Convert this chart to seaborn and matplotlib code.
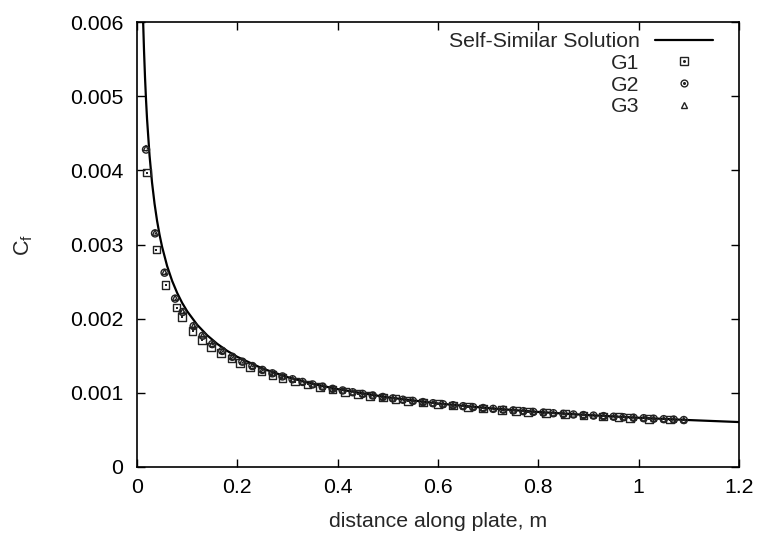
import matplotlib
matplotlib.use("Agg")
import matplotlib.pyplot as plt
import seaborn as sns
import pandas as pd
from matplotlib.lines import Line2D
from matplotlib.legend_handler import HandlerTuple
from matplotlib.ticker import FuncFormatter, FixedLocator

# ---------------- data ----------------
ref_x = [0.0110, 0.0123, 0.014, 0.016, 0.018, 0.020, 0.025, 0.030, 0.035, 0.040, 0.045,
         0.050, 0.060, 0.070, 0.080, 0.090, 0.100, 0.120, 0.140, 0.160, 0.180, 0.200,
         0.250, 0.300, 0.350, 0.400, 0.500, 0.600, 0.700, 0.800, 0.900, 1.000, 1.100, 1.200]
ref_cf = [6.331, 5.987, 5.612, 5.249, 4.949, 4.695, 4.200, 3.834, 3.549, 3.320, 3.130,
          2.969, 2.711, 2.510, 2.348, 2.213, 2.100, 1.917, 1.775, 1.660, 1.565, 1.485,
          1.328, 1.212, 1.122, 1.050, 0.939, 0.857, 0.794, 0.742, 0.700, 0.664, 0.633, 0.606]

g1_x = [0.0205, 0.0385, 0.057, 0.079, 0.090, 0.111, 0.130, 0.148, 0.168, 0.188, 0.205,
        0.225, 0.248, 0.270, 0.290, 0.315, 0.340, 0.365, 0.390, 0.415, 0.440, 0.465,
        0.490, 0.515, 0.540, 0.570, 0.600, 0.630, 0.660, 0.690, 0.727, 0.755, 0.779,
        0.815, 0.853, 0.890, 0.929, 0.960, 0.983, 1.020, 1.062]
g1_cf = [3.97, 2.93, 2.45, 2.15, 2.02, 1.83, 1.713, 1.622, 1.539, 1.462, 1.405,
         1.347, 1.287, 1.237, 1.196, 1.152, 1.113, 1.077, 1.044, 1.014, 0.986, 0.960,
         0.937, 0.914, 0.893, 0.869, 0.848, 0.829, 0.809, 0.791, 0.771, 0.757, 0.745,
         0.728, 0.712, 0.697, 0.682, 0.671, 0.663, 0.651, 0.638]

g2_x = [0.018, 0.036, 0.055, 0.076, 0.091, 0.113, 0.131, 0.150, 0.170, 0.190, 0.210,
        0.230, 0.250, 0.270, 0.290, 0.310, 0.330, 0.350, 0.370, 0.390, 0.410, 0.430,
        0.450, 0.470, 0.490, 0.510, 0.530, 0.550, 0.570, 0.590, 0.610, 0.630, 0.650,
        0.670, 0.690, 0.710, 0.730, 0.750, 0.770, 0.790, 0.810, 0.830, 0.850, 0.870,
        0.890, 0.910, 0.930, 0.950, 0.970, 0.990, 1.010, 1.030, 1.050, 1.070, 1.090]
g2_cf = [4.28, 3.15, 2.62, 2.27, 2.09, 1.90, 1.77, 1.657, 1.565, 1.486, 1.420,
         1.361, 1.309, 1.263, 1.221, 1.183, 1.147, 1.113, 1.083, 1.054, 1.032, 1.008,
         0.985, 0.964, 0.944, 0.925, 0.907, 0.891, 0.875, 0.860, 0.846, 0.833, 0.820,
         0.807, 0.795, 0.784, 0.773, 0.763, 0.753, 0.743, 0.734, 0.725, 0.716, 0.708,
         0.700, 0.693, 0.686, 0.678, 0.671, 0.664, 0.658, 0.651, 0.645, 0.639, 0.633]

g3_x = [0.018, 0.036, 0.055, 0.076, 0.091, 0.113, 0.131, 0.150, 0.170, 0.190, 0.210,
        0.230, 0.250, 0.270, 0.290, 0.310, 0.330, 0.350, 0.370, 0.390, 0.410, 0.430,
        0.450, 0.470, 0.490, 0.510, 0.530, 0.550, 0.570, 0.590, 0.610, 0.630, 0.650,
        0.670, 0.690, 0.710, 0.730, 0.750, 0.770, 0.790, 0.810, 0.830, 0.850, 0.870,
        0.890, 0.910, 0.930, 0.950, 0.970, 0.990, 1.010, 1.030, 1.050, 1.070, 1.090]
g3_cf = [4.30, 3.16, 2.63, 2.28, 2.10, 1.905, 1.775, 1.660, 1.568, 1.488, 1.422,
         1.363, 1.310, 1.264, 1.222, 1.184, 1.148, 1.114, 1.084, 1.055, 1.032, 1.008,
         0.985, 0.964, 0.944, 0.925, 0.907, 0.891, 0.875, 0.860, 0.846, 0.833, 0.820,
         0.807, 0.795, 0.784, 0.773, 0.763, 0.753, 0.743, 0.734, 0.725, 0.716, 0.708,
         0.700, 0.693, 0.686, 0.678, 0.671, 0.664, 0.658, 0.651, 0.645, 0.639, 0.633]

x_ticks = [0, 0.2, 0.4, 0.6, 0.8, 1.0, 1.2]
y_ticks = [0, 0.001, 0.002, 0.003, 0.004, 0.005, 0.006]
series_labels = ["Self-Similar Solution", "G1", "G2", "G3"]
x_label = "distance along plate, m"
y_label = r"C$_\mathrm{f}$"

# ---------------- style ----------------
sns.set_theme(style="white")
plt.rcParams["font.family"] = ["Liberation Sans", "DejaVu Sans"]
plt.rcParams["mathtext.fontset"] = "custom"
plt.rcParams["mathtext.rm"] = "Liberation Sans"
plt.rcParams["mathtext.it"] = "Liberation Sans:italic"

FS = 15.3
fig = plt.figure(figsize=(7.59, 5.34), dpi=100)
ax = fig.add_axes([137 / 759, 1 - 467 / 534, (739 - 137) / 759, (467 - 22) / 534])

def scale(v):
    return [c * 1e-3 for c in v]

ref_df = pd.DataFrame({"x": ref_x, "cf": scale(ref_cf)})
g1_df = pd.DataFrame({"x": g1_x, "cf": scale(g1_cf)})
g2_df = pd.DataFrame({"x": g2_x, "cf": scale(g2_cf)})
g3_df = pd.DataFrame({"x": g3_x, "cf": scale(g3_cf)})

mk_color = "#222222"
MEW = 1.0
sns.lineplot(data=ref_df, x="x", y="cf", ax=ax, color="black", linewidth=1.6,
             sort=False, estimator=None, legend=False, zorder=2)
sns.scatterplot(data=g1_df, x="x", y="cf", ax=ax, marker="s", s=30,
                facecolors="none", edgecolor=mk_color, linewidth=MEW, legend=False, zorder=3)
sns.scatterplot(data=g1_df, x="x", y="cf", ax=ax, marker="s", s=1.5,
                color=mk_color, linewidth=0, legend=False, zorder=3)
sns.scatterplot(data=g2_df, x="x", y="cf", ax=ax, marker="o", s=26,
                facecolors="none", edgecolor=mk_color, linewidth=MEW, legend=False, zorder=4)
sns.scatterplot(data=g2_df, x="x", y="cf", ax=ax, marker="o", s=1.5,
                color=mk_color, linewidth=0, legend=False, zorder=4)
sns.scatterplot(data=g3_df, x="x", y="cf", ax=ax, marker="^", s=14,
                facecolors="none", edgecolor=mk_color, linewidth=MEW, legend=False, zorder=5)

ax.set_xlim(0, 1.2)
ax.set_ylim(0, 0.006)
ax.xaxis.set_major_locator(FixedLocator(x_ticks))
ax.yaxis.set_major_locator(FixedLocator(y_ticks))
ax.xaxis.set_major_formatter(FuncFormatter(lambda v, p: f"{v:g}"))
ax.yaxis.set_major_formatter(FuncFormatter(lambda v, p: f"{v:g}"))
ax.tick_params(direction="in", length=6, width=1, colors="black", labelsize=FS,
               top=True, right=True, bottom=True, left=True)
ax.tick_params(axis="y", pad=10)
ax.tick_params(axis="x", pad=8)
for sp in ax.spines.values():
    sp.set_color("black")
    sp.set_linewidth(1.2)

ax.set_xlabel(x_label, fontsize=FS, labelpad=11)
ax.set_ylabel(y_label, fontsize=15.5, labelpad=25)

# legend
h_line = Line2D([], [], color="black", linewidth=1.6)
def mk_handle(m, ms):
    return Line2D([], [], linestyle="none", marker=m, markersize=ms,
                  markerfacecolor="none", markeredgecolor=mk_color, markeredgewidth=MEW)
dot = Line2D([], [], linestyle="none", marker="o", markersize=1.2,
             markerfacecolor=mk_color, markeredgecolor=mk_color)
handles = [h_line, (mk_handle("s", 5.4), dot), (mk_handle("o", 4.9), dot), mk_handle("^", 3.8)]
leg = ax.legend(handles, series_labels, loc="upper right", markerfirst=False,
                frameon=False, fontsize=FS, handlelength=2.75, handletextpad=0.7,
                labelspacing=0.13, borderaxespad=0.0, borderpad=0.0,
                bbox_to_anchor=(1 - 26 / 602, 1 - 10 / 445),
                handler_map={tuple: HandlerTuple(ndivide=1, pad=0)})

fig.savefig("out.png", dpi=100)
